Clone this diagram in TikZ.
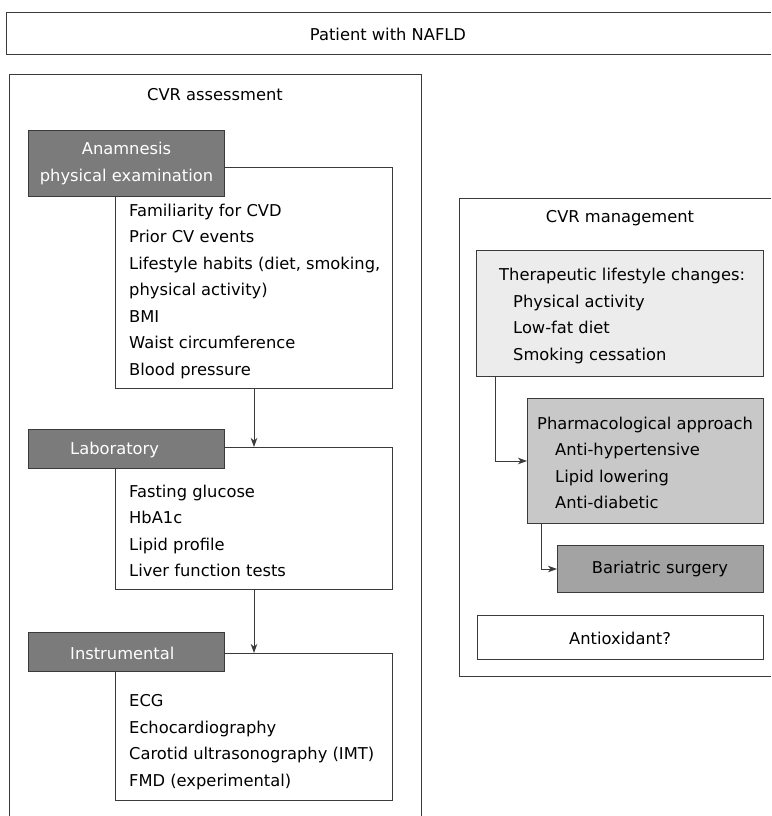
\documentclass[tikz,border=0pt]{standalone}
\usepackage{fontspec}
\setmainfont{DejaVu Sans}
\usetikzlibrary{arrows.meta}
\definecolor{linec}{HTML}{3A3A3A}
\definecolor{darkfill}{HTML}{7B7B7B}
\definecolor{lightfill}{HTML}{ECECEC}
\definecolor{midfill}{HTML}{C8C8C8}
\definecolor{barifill}{HTML}{A3A3A3}
\begin{document}
\begin{tikzpicture}[x=1pt, y=-1pt,
  font=\fontsize{16.3}{26.5}\selectfont,
  frame/.style={draw=linec, line width=1pt},
  box/.style={draw=linec, line width=1pt, inner sep=0pt, anchor=north west},
  hdr/.style={box, fill=darkfill, text=white, align=center},
  txt/.style={anchor=west, inner sep=0pt, align=left},
  arr/.style={draw=linec, line width=1pt, -{Stealth[length=9pt,width=6.5pt,inset=2.5pt]}}]
\useasboundingbox (0,0) rectangle (771,816);
% top banner
\draw[frame] (771,13) -- (6,13) -- (6,55) -- (771,55);
\node (patient) at (388,34) {Patient with NAFLD};
% left frame
\draw[frame] (9,816) -- (9,74) -- (421,74) -- (421,816);
\node (assess) at (215,95) {CVR assessment};
% anamnesis
\node[box, minimum width=277pt, minimum height=221pt] (anamlist) at (115,167) {};
\node[txt] (anamtext) at (129,291) {Familiarity for CVD\\Prior CV events\\Lifestyle habits (diet, smoking,\\physical activity)\\BMI\\Waist circumference\\Blood pressure};
\node[hdr, minimum width=196pt, minimum height=66pt] (anam) at (28,130) {Anamnesis\\physical examination};
% laboratory
\node[box, minimum width=277pt, minimum height=142pt] (lablist) at (115,447) {};
\node[txt] (labtext) at (129,531) {Fasting glucose\\HbA1c\\Lipid profile\\Liver function tests};
\node[box, fill=darkfill, minimum width=196pt, minimum height=39pt] (lab) at (28,429) {};
\node[txt, text=white] (labtitle) at (70,450) {Laboratory};
% instrumental
\node[box, minimum width=277pt, minimum height=147pt] (instlist) at (115,653) {};
\node[txt] (insttext) at (129,742) {ECG\\Echocardiography\\Carotid ultrasonography (IMT)\\FMD (experimental)};
\node[box, fill=darkfill, minimum width=196pt, minimum height=39pt] (inst) at (28,632) {};
\node[txt, text=white] (insttitle) at (70,653) {Instrumental};
% left arrows
\draw[arr] (anamlist.south) -- (lablist.north);
\draw[arr] (lablist.south) -- (instlist.north);
% right frame
\draw[frame] (771,198) -- (459,198) -- (459,676) -- (771,676);
\node (manage) at (620,218) {CVR management};
\node[box, fill=lightfill, minimum width=287pt, minimum height=126pt] (ther) at (476,250) {};
\node[txt] (thertext) at (499,316) {Therapeutic lifestyle changes:\\\hspace*{14pt}Physical activity\\\hspace*{14pt}Low-fat diet\\\hspace*{14pt}Smoking cessation};
\node[box, fill=midfill, minimum width=236pt, minimum height=125pt] (pharm) at (527,398) {};
\node[txt] (pharmtext) at (537,463) {Pharmacological approach\\\hspace*{18pt}Anti-hypertensive\\\hspace*{18pt}Lipid lowering\\\hspace*{18pt}Anti-diabetic};
\node[box, fill=barifill, minimum width=206pt, minimum height=47pt] (bari) at (557,545) {};
\node (baritext) at (660,569) {Bariatric surgery};
\node[box, minimum width=286pt, minimum height=44pt] (anti) at (477,615) {};
\node (antitext) at (620,638) {Antioxidant?};
% right arrows
\draw[arr] ([xshift=19pt]ther.south west) |- (pharm.west);
\draw[arr] ([xshift=14pt]pharm.south west) |- (bari.west);
\end{tikzpicture}
\end{document}
